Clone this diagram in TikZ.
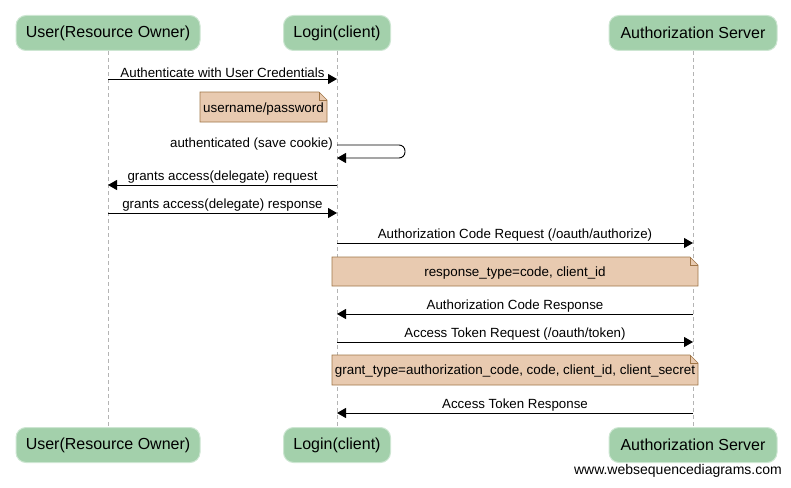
\documentclass[tikz,border=0pt]{standalone}
\usepackage{fontspec}
\setmainfont{Liberation Sans}
\usetikzlibrary{arrows.meta,calc}
\definecolor{partfill}{RGB}{163,208,171}
\definecolor{partdraw}{RGB}{205,230,210}
\definecolor{notefill}{RGB}{232,202,176}
\definecolor{notedraw}{RGB}{160,118,72}
\definecolor{lifegray}{RGB}{180,180,180}
\begin{document}
\begin{tikzpicture}[x=1pt,y=-1pt,
  part/.style={fill=partfill,draw=partdraw,line width=1pt,rounded corners=10pt,inner sep=0pt,font=\fontsize{16}{18}\selectfont},
  life/.style={draw=lifegray,dashed,dash pattern=on 4pt off 3pt,line width=0.6pt},
  msg/.style={draw=black,line width=0.9pt,-{Triangle[length=9pt,width=10pt]}},
  lbl/.style={font=\fontsize{13.3}{15}\selectfont,inner sep=0pt},
  notebox/.style={font=\fontsize{13.4}{15}\selectfont,inner sep=0pt}
]
\useasboundingbox (0,0) rectangle (791,487);
% participants
\node[part,minimum width=184pt,minimum height=35pt] (ut) at (108,33) {User(Resource Owner)};
\node[part,minimum width=107pt,minimum height=35pt] (lt) at (337,33) {Login(client)};
\node[part,minimum width=168pt,minimum height=35pt] (at) at (693,33) {Authorization Server};
\node[part,minimum width=184pt,minimum height=35pt] (ub) at (108,445) {User(Resource Owner)};
\node[part,minimum width=107pt,minimum height=35pt] (lb) at (337,445) {Login(client)};
\node[part,minimum width=168pt,minimum height=35pt] (ab) at (693,445) {Authorization Server};
% lifelines
\draw[life] (ut.south) -- (ub.north);
\draw[life] (lt.south) -- (lb.north);
\draw[life] (at.south) -- (ab.north);
% lifeline coordinates
\foreach \n/\y in {1/79,3/145,3b/158,4/185,5/213,6/243,8/314,9/342,11/413}{
  \coordinate (u\n) at (ut.south |- 0,\y);
  \coordinate (l\n) at (lt.south |- 0,\y);
  \coordinate (a\n) at (at.south |- 0,\y);
}
% 1
\draw[msg] (u1) -- node[lbl,above=0.8pt] {Authenticate with User Credentials} (l1);
% note username/password
\fill[notefill] (200,92) -- (319,92) -- (327,100) -- (327,122) -- (200,122) -- cycle;
\draw[notedraw,line width=0.6pt] (200,92) -- (319,92) -- (327,100) -- (327,122) -- (200,122) -- cycle;
\draw[notedraw,line width=0.6pt] (319,92) -- (319,100) -- (327,100);
\node[notebox] (n1) at (263.5,109) {username/password};
% 3 self loop
\draw[msg,rounded corners=6pt] (l3) -- (405,145) -- (405,158) -- (l3b);
\node[lbl,anchor=east] (s3) at ($(l3)+(-4,-1)$) {authenticated (save cookie)};
% 4
\draw[msg] (l4) -- node[lbl,above=0.8pt] {grants access(delegate) request} (u4);
% 5
\draw[msg] (u5) -- node[lbl,above=0.8pt] {grants access(delegate) response} (l5);
% 6
\draw[msg] (l6) -- node[lbl,above=0.8pt] {Authorization Code Request (/oauth/authorize)} (a6);
% note 2
\fill[notefill] (332,257) -- (690,257) -- (698,265) -- (698,286) -- (332,286) -- cycle;
\draw[notedraw,line width=0.6pt] (332,257) -- (690,257) -- (698,265) -- (698,286) -- (332,286) -- cycle;
\draw[notedraw,line width=0.6pt] (690,257) -- (690,265) -- (698,265);
\node[notebox] (n2) at (515,273) {response\_type=code, client\_id};
% 8
\draw[msg] (a8) -- node[lbl,above=0.8pt] {Authorization Code Response} (l8);
% 9
\draw[msg] (l9) -- node[lbl,above=0.8pt] {Access Token Request (/oauth/token)} (a9);
% note 3
\fill[notefill] (332,355) -- (690,355) -- (698,363) -- (698,385) -- (332,385) -- cycle;
\draw[notedraw,line width=0.6pt] (332,355) -- (690,355) -- (698,363) -- (698,385) -- (332,385) -- cycle;
\draw[notedraw,line width=0.6pt] (690,355) -- (690,363) -- (698,363);
\node[notebox] (n3) at (515,371.5) {grant\_type=authorization\_code, code, client\_id, client\_secret};
% 11
\draw[msg] (a11) -- node[lbl,above=0.8pt] {Access Token Response} (l11);
% footer
\node[lbl,anchor=east,font=\fontsize{14}{16}\selectfont] (foot) at (782,471) {www.websequencediagrams.com};
\end{tikzpicture}
\end{document}
